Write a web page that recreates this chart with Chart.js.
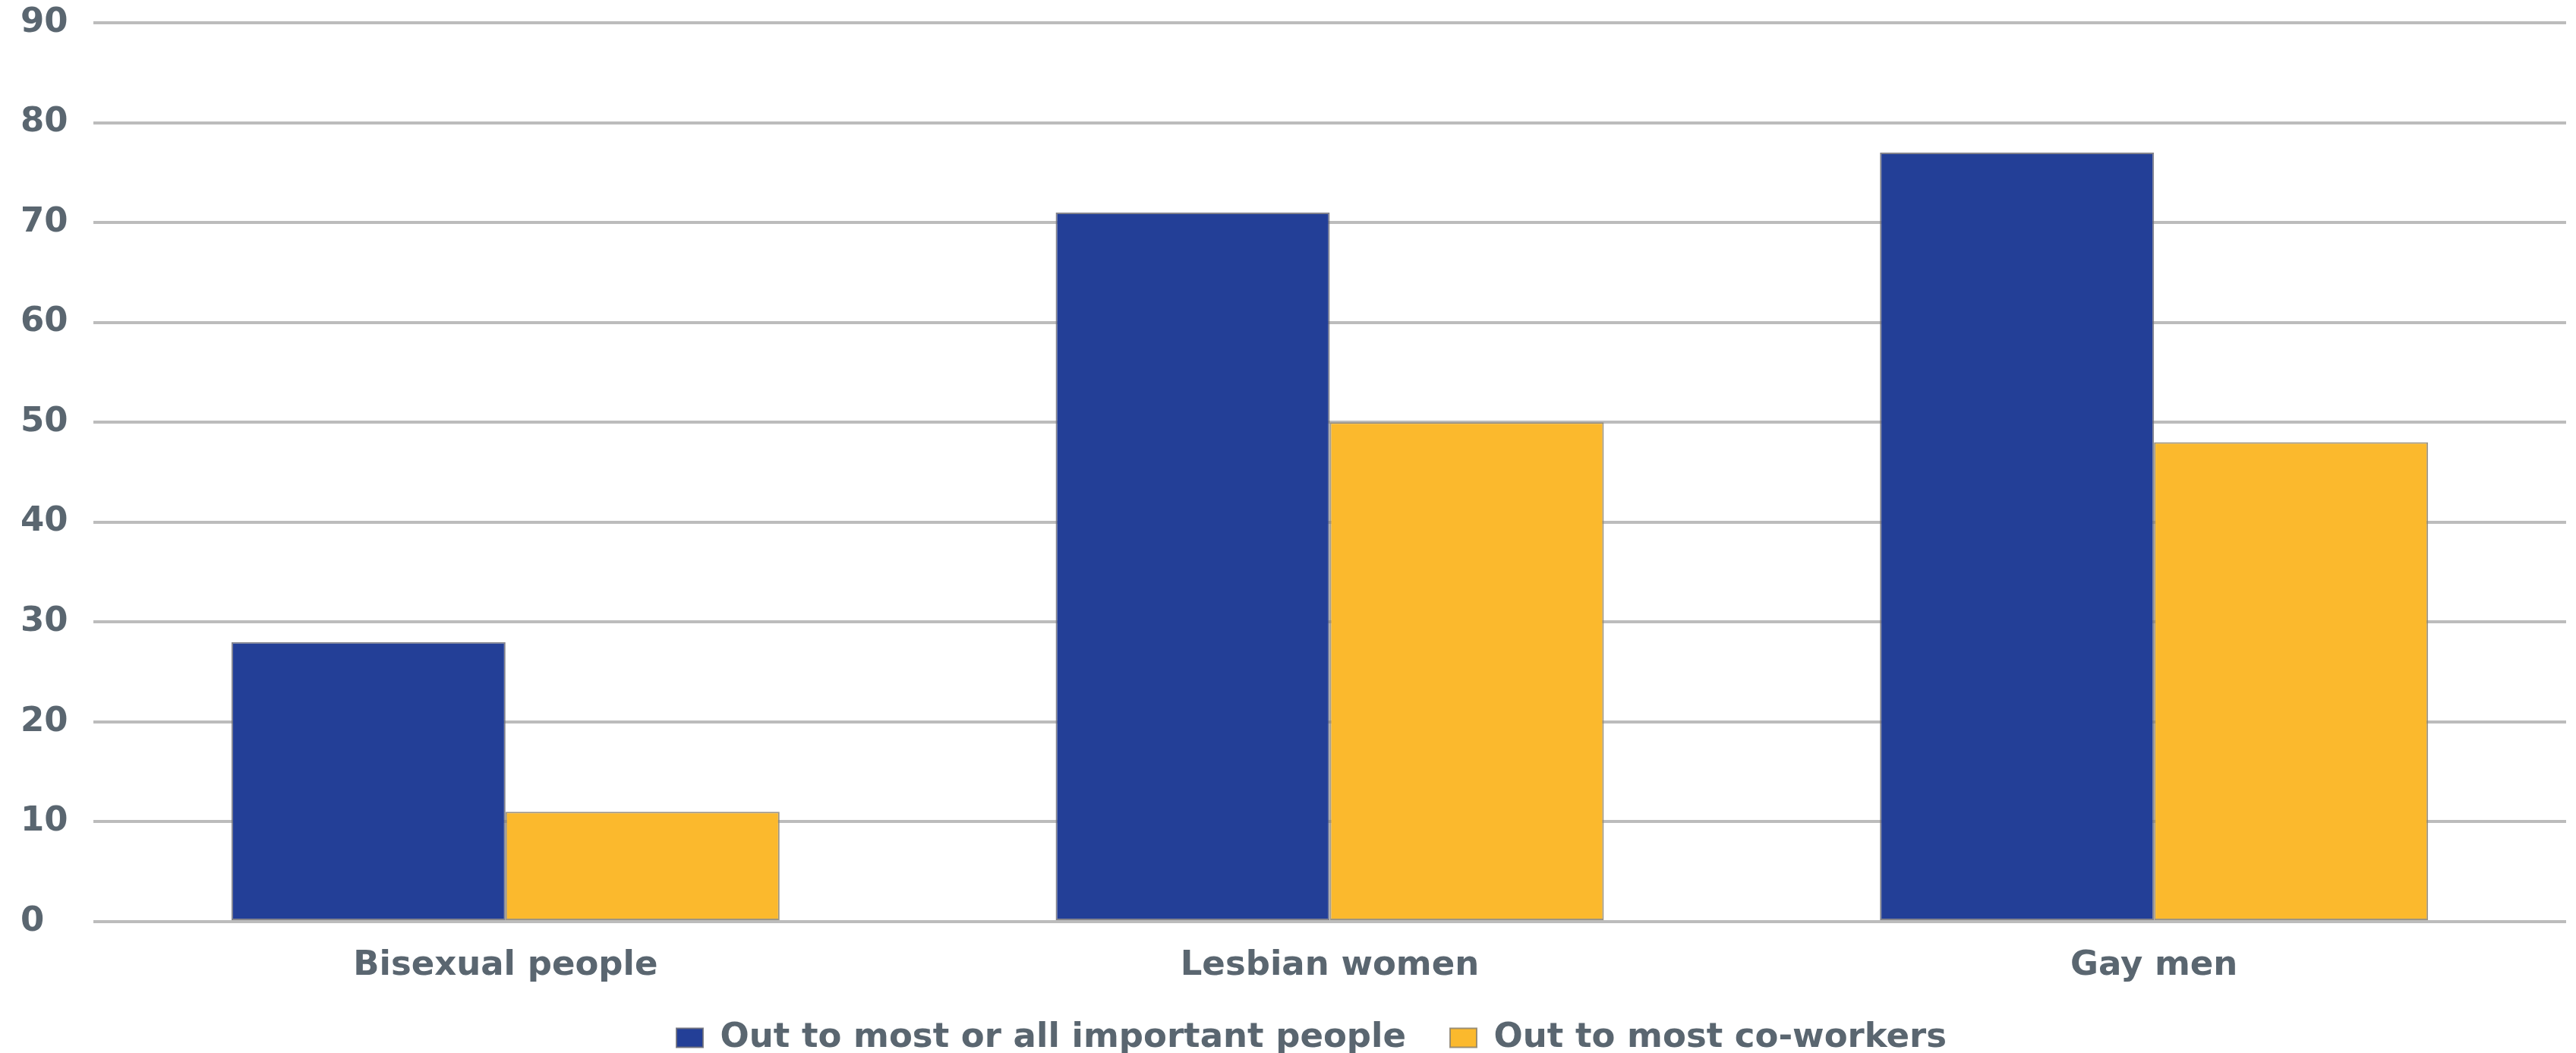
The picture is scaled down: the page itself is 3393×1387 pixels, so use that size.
<!DOCTYPE html>
<html>
<head>
<meta charset="utf-8">
<script src="https://cdn.jsdelivr.net/npm/chart.js@4"></script>
<style>
  html, body { margin: 0; padding: 0; background: #ffffff; }
  #wrap { width: 3393px; height: 1387px; position: relative; }
</style>
</head>
<body>
<div id="wrap"><canvas id="c"></canvas></div>
<script>
const categories = ["Bisexual people", "Lesbian women", "Gay men"];
const seriesNames = ["Out to most or all important people", "Out to most co-workers"];
const outImportant = [28, 71, 77];
const outCoworkers = [11, 50, 48];
const yTicks = [0, 10, 20, 30, 40, 50, 60, 70, 80, 90];

const textColor = "#5a6670";
const fontFamily = "'DejaVu Sans', sans-serif";

const legendTweak = {
  id: "legendTweak",
  beforeLayout(chart) {
    const lg = chart.legend;
    if (lg && !lg.__patched) {
      const origFit = lg.fit;
      lg.fit = function () { origFit.call(this); this.height = 68; };
      lg.__patched = true;
    }
  },
  afterLayout(chart) {
    const lg = chart.legend;
    if (lg) {
      lg.left -= 24; lg.right -= 24;
      const pad = lg.options.labels.padding;
      const half = lg.options.labels.font.size / 2;
      lg.top = chart.chartArea.bottom + 153 - pad - half;
      lg.bottom = chart.height;
    }
  }
};

new Chart(document.getElementById("c"), {
  type: "bar",
  data: {
    labels: categories,
    datasets: [
      {
        label: seriesNames[0],
        data: outImportant,
        backgroundColor: "#233f97",
        borderColor: "rgba(110,110,120,0.85)",
        borderWidth: 2,
        borderSkipped: false
      },
      {
        label: seriesNames[1],
        data: outCoworkers,
        backgroundColor: "#fbb92d",
        borderColor: "rgba(140,130,110,0.85)",
        borderWidth: 2,
        borderSkipped: false
      }
    ]
  },
  plugins: [legendTweak],
  options: {
    responsive: true,
    maintainAspectRatio: false,
    animation: false,
    devicePixelRatio: 1,
    categoryPercentage: 0.665,
    barPercentage: 1.0,
    layout: { padding: { left: 27, right: 13, top: 0, bottom: 0 } },
    plugins: {
      tooltip: { enabled: false },
      legend: {
        position: "bottom",
        fullSize: false,
        labels: {
          boxWidth: 35,
          boxHeight: 25,
          padding: 58,
          color: textColor,
          font: { family: fontFamily, size: 45, weight: "bold" }
        }
      }
    },
    scales: {
      x: {
        afterFit: (scale) => { scale.height = 105; },
        grid: { display: false, drawTicks: false },
        border: { display: false },
        ticks: {
          color: textColor,
          padding: 31,
          font: { family: fontFamily, size: 45, weight: "bold" }
        }
      },
      y: {
        min: 0,
        max: 90,
        afterBuildTicks: (scale) => { scale.ticks = yTicks.map(v => ({ value: v })); },
        afterFit: (scale) => { scale.width = 96; scale.paddingTop = 30; },
        grid: { color: "#bcbcbc", lineWidth: 4, drawTicks: false },
        border: { display: false },
        ticks: {
          color: textColor,
          crossAlign: "far",
          padding: 10,
          font: { family: fontFamily, size: 45, weight: "bold" }
        }
      }
    }
  }
});
</script>
</body>
</html>
